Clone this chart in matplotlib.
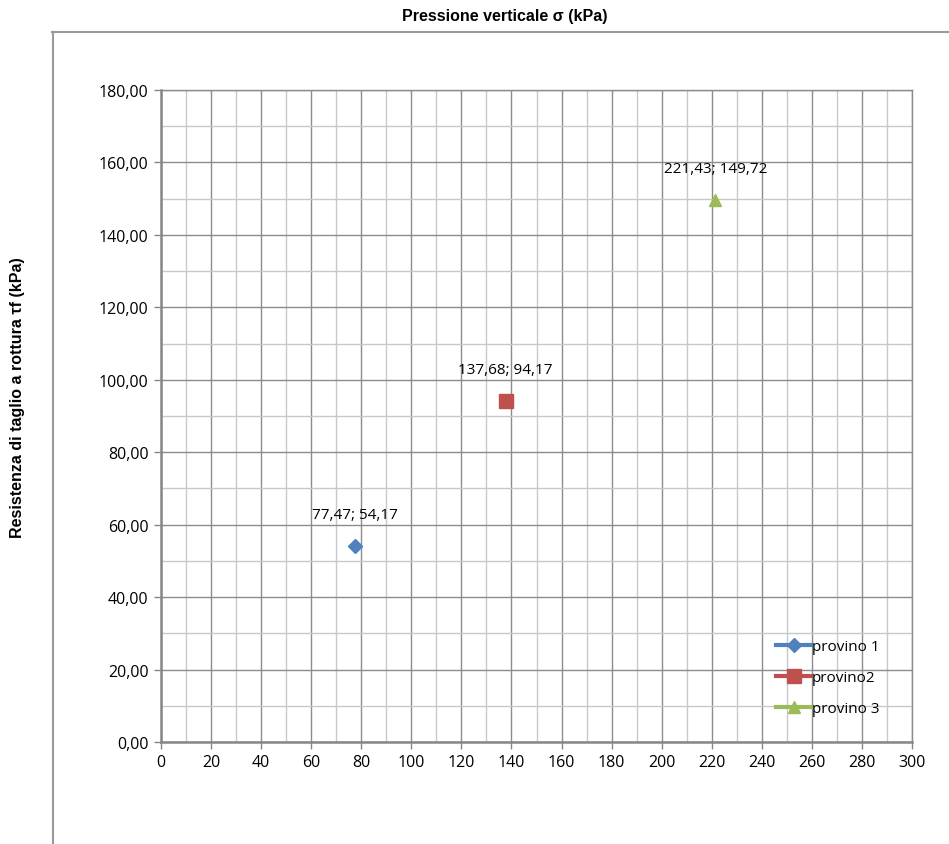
import matplotlib
matplotlib.use("Agg")
import matplotlib.pyplot as plt
from matplotlib.lines import Line2D
from matplotlib.ticker import MultipleLocator, FuncFormatter

# Shear test results: vertical pressure vs. shear strength at failure
series_names = ["provino 1", "provino2", "provino 3"]
sigma_kpa = [77.47, 137.68, 221.43]
tau_kpa = [54.17, 94.17, 149.72]
point_labels = ["77,47; 54,17", "137,68; 94,17", "221,43; 149,72"]

colors = ["#4F81BD", "#C0504D", "#9BBB59"]
markers = ["D", "s", "^"]
marker_sizes = [7, 10, 9]

tick_font = "Open Sans"
title_font = "Liberation Sans"

fig = plt.figure(figsize=(9.49, 8.45), dpi=100)
ax = fig.add_axes([161 / 949, 1 - 743 / 845, (912 - 161) / 949, (743 - 91) / 845])

ax.set_xlim(0, 300)
ax.set_ylim(0, 180)

ax.xaxis.set_major_locator(MultipleLocator(20))
ax.xaxis.set_minor_locator(MultipleLocator(10))
ax.yaxis.set_major_locator(MultipleLocator(20))
ax.yaxis.set_minor_locator(MultipleLocator(10))
ax.yaxis.set_major_formatter(FuncFormatter(lambda v, p: f"{v:.2f}".replace(".", ",")))
ax.xaxis.set_major_formatter(FuncFormatter(lambda v, p: f"{v:.0f}"))

ax.grid(which="major", color="#8c8c8c", linewidth=1.0)
ax.grid(which="minor", color="#c8c8c8", linewidth=1.0)
ax.set_axisbelow(True)

for side in ("top", "right"):
    ax.spines[side].set_color("#8c8c8c")
    ax.spines[side].set_linewidth(1.0)
for side in ("left", "bottom"):
    ax.spines[side].set_color("#868686")
    ax.spines[side].set_linewidth(1.8)

ax.tick_params(which="major", length=5, width=1.0, color="#868686", direction="out",
               labelsize=11.5, pad=4)
ax.tick_params(which="minor", length=0)
for lab in ax.get_xticklabels() + ax.get_yticklabels():
    lab.set_fontfamily(tick_font)
    lab.set_color("#000000")

handles = []
for name, x, y, lbl, c, m, ms in zip(series_names, sigma_kpa, tau_kpa, point_labels,
                                      colors, markers, marker_sizes):
    ax.plot([x], [y], linestyle="none", marker=m, markersize=ms, color=c,
            markeredgecolor=c, zorder=5, clip_on=False)
    ax.annotate(lbl, (x, y), xytext=(0, 17), textcoords="offset points",
                ha="center", va="bottom", fontsize=11, fontfamily=tick_font)
    handles.append(Line2D([0], [0], color=c, linewidth=3, marker=m,
                          markersize=ms, markeredgecolor=c, label=name))

leg = ax.legend(handles=handles, loc="lower left", bbox_to_anchor=(776 / 949, 1 - 717 / 845),
                bbox_transform=fig.transFigure,
                frameon=False, handlelength=2.3, handletextpad=0.05,
                labelspacing=1.05, borderaxespad=0.0, borderpad=0.0,
                prop={"family": tick_font, "size": 11})

# Chart-area frame and titles
fig.add_artist(Line2D([52.5 / 949, 52.5 / 949], [0, 1 - 33 / 845],
                      transform=fig.transFigure, color="#9a9a9a", linewidth=1.5))
fig.add_artist(Line2D([52 / 949, 1.0], [1 - 33 / 845, 1 - 33 / 845],
                      transform=fig.transFigure, color="#9a9a9a", linewidth=1.5))

fig.text(505 / 949, 1 - 16 / 845, "Pressione verticale σ (kPa)", ha="center", va="center",
         fontsize=11.5, fontweight="bold", fontfamily=title_font)
fig.text(18 / 949, 1 - 398 / 845, "Resistenza di taglio a rottura τf (kPa)", ha="center",
         va="center", rotation=90, fontsize=11.5, fontweight="bold", fontfamily=title_font)

fig.savefig("out.png", dpi=100)
